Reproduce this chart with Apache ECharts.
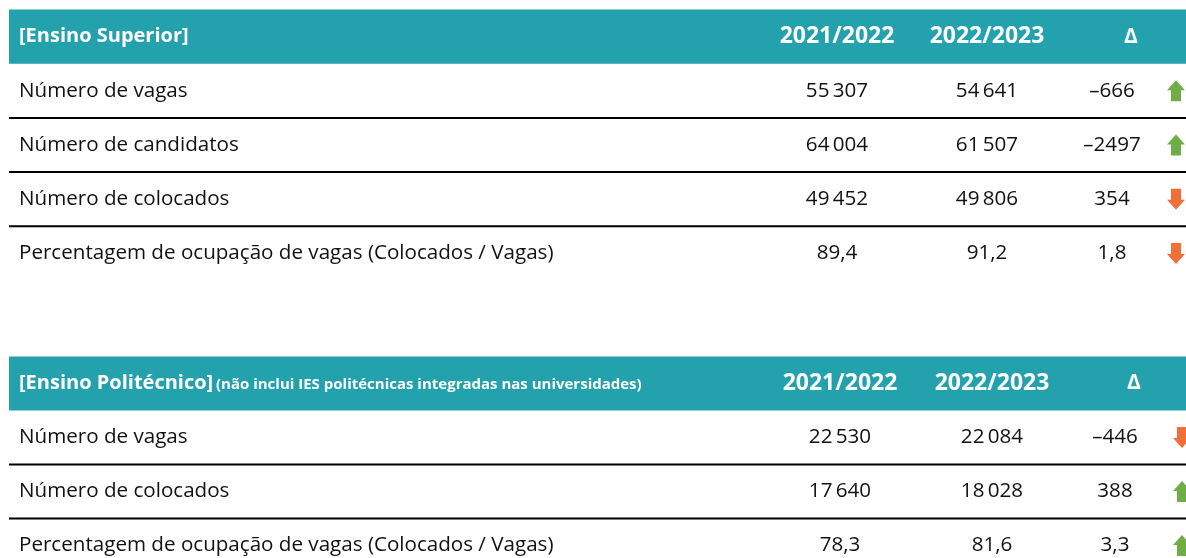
<!DOCTYPE html>
<html>
<head>
<meta charset="utf-8">
<script src="https://cdn.jsdelivr.net/npm/echarts@6/dist/echarts.min.js"></script>
<style>
  html, body { margin: 0; padding: 0; background: #fff; }
  #main { width: 1186px; height: 558px; }
</style>
</head>
<body>
<div id="main"></div>
<script>
// cabeçalhos
const yearHeaders = ['2021/2022', '2022/2023', 'Δ'];

// Ensino Superior
const supTitle = '[Ensino Superior]';
const supRows = ['Número de vagas', 'Número de candidatos', 'Número de colocados', 'Percentagem de ocupação de vagas (Colocados / Vagas)'];
const sup2122 = ['55\u2009307', '64\u2009004', '49\u2009452', '89,4'];
const sup2223 = ['54\u2009641', '61\u2009507', '49\u2009806', '91,2'];
const supDelta = ['–666', '–2497', '354', '1,8'];
const supArrow = ['up', 'up', 'down', 'down'];

// Ensino Politécnico
const polTitle = '[Ensino Politécnico]';
const polNote = '(não inclui IES politécnicas integradas nas universidades)';
const polRows = ['Número de vagas', 'Número de colocados', 'Percentagem de ocupação de vagas (Colocados / Vagas)'];
const pol2122 = ['22\u2009530', '17\u2009640', '78,3'];
const pol2223 = ['22\u2009084', '18\u2009028', '81,6'];
const polDelta = ['–446', '388', '3,3'];
const polArrow = ['down', 'up', 'up'];

const TEAL = '#23a1ad';
const UP = '#70ad47';
const DOWN = '#f26f3a';
const FONT = '"Open Sans", "Noto Sans", sans-serif';

const tables = [
  {
    title: supTitle, note: null, rows: supRows, c1: sup2122, c2: sup2223, d: supDelta, arrow: supArrow,
    cols: { c1: 837, c2: 987, d: 1112, dHead: 1131, arrow: 1176 }
  },
  {
    title: polTitle, note: polNote, rows: polRows, c1: pol2122, c2: pol2223, d: polDelta, arrow: polArrow,
    cols: { c1: 840, c2: 992, d: 1115, dHead: 1134, arrow: 1182 }
  }
];

function txt(x, y, s, font, align, color) {
  return {
    type: 'text',
    style: { x: x, y: y, text: s, font: font, textAlign: align, textVerticalAlign: 'middle', fill: color }
  };
}

function arrowShape(cx, cy, dir, color) {
  const s = dir === 'up' ? 1 : -1;
  const pts = [
    [cx, cy - 10.5 * s], [cx + 9, cy - 0.5 * s], [cx + 5, cy - 0.5 * s], [cx + 5, cy + 10.5 * s],
    [cx - 5, cy + 10.5 * s], [cx - 5, cy - 0.5 * s], [cx - 9, cy - 0.5 * s]
  ];
  return { type: 'polygon', shape: { points: pts }, style: { fill: color } };
}

function makeRender(t) {
  return function (params, api) {
    const i = api.value(1);
    const p = api.coord([0, i]);
    const h = Math.abs(api.size([0, 1])[1]);
    const cs = params.coordSys;
    const cy = p[1];
    const c = t.cols;
    const children = [];
    if (i === 0) {
      children.push({ type: 'rect', shape: { x: cs.x, y: cy - h / 2, width: cs.width, height: h }, style: { fill: TEAL } });
      children.push(txt(cs.x + 10, cy, t.title, 'bold 20px ' + FONT, 'left', '#fff'));
      if (t.note) {
        children.push(txt(cs.x + 207, cy + 1, t.note, 'bold 15px ' + FONT, 'left', '#fff'));
      }
      children.push(txt(c.c1, cy, yearHeaders[0], 'bold 23px ' + FONT, 'center', '#fff'));
      children.push(txt(c.c2, cy, yearHeaders[1], 'bold 23px ' + FONT, 'center', '#fff'));
      children.push(txt(c.dHead, cy, yearHeaders[2], 'bold 21px ' + FONT, 'center', '#fff'));
    } else {
      const k = i - 1;
      const f = '20.6px ' + FONT;
      children.push(txt(cs.x + 10, cy, t.rows[k], f, 'left', '#111'));
      children.push(txt(c.c1, cy, t.c1[k], f, 'center', '#111'));
      children.push(txt(c.c2, cy, t.c2[k], f, 'center', '#111'));
      children.push(txt(c.d, cy, t.d[k], f, 'center', '#111'));
      children.push(arrowShape(c.arrow, cy, t.arrow[k], t.arrow[k] === 'up' ? UP : DOWN));
      if (k < t.rows.length - 1) {
        children.push({
          type: 'rect',
          shape: { x: cs.x, y: cy + h / 2 - 1, width: cs.width, height: 2 },
          style: { fill: '#000' }
        });
      }
    }
    return { type: 'group', children: children };
  };
}

const chart = echarts.init(document.getElementById('main'));

// linhas de 54 px; a segunda tabela termina abaixo do fundo da imagem
const option = {
  animation: false,
  grid: [
    { left: 9, right: 0, top: 9.5, height: 271 },
    { left: 9, right: 0, top: 356.5, height: 201.5 }
  ],
  xAxis: tables.map((t, gi) => ({ type: 'value', gridIndex: gi, min: 0, max: 1, show: false })),
  yAxis: [
    { type: 'value', gridIndex: 0, inverse: true, show: false, min: -0.5, max: 4.5 },
    { type: 'value', gridIndex: 1, inverse: true, show: false, min: -0.5, max: -0.5 + 201.5 / 54 }
  ],
  series: tables.map((t, gi) => ({
    type: 'custom',
    xAxisIndex: gi,
    yAxisIndex: gi,
    clip: false,
    renderItem: makeRender(t),
    data: ['header'].concat(t.rows).map((r, idx) => [0, idx])
  }))
};

chart.setOption(option);
</script>
</body>
</html>
